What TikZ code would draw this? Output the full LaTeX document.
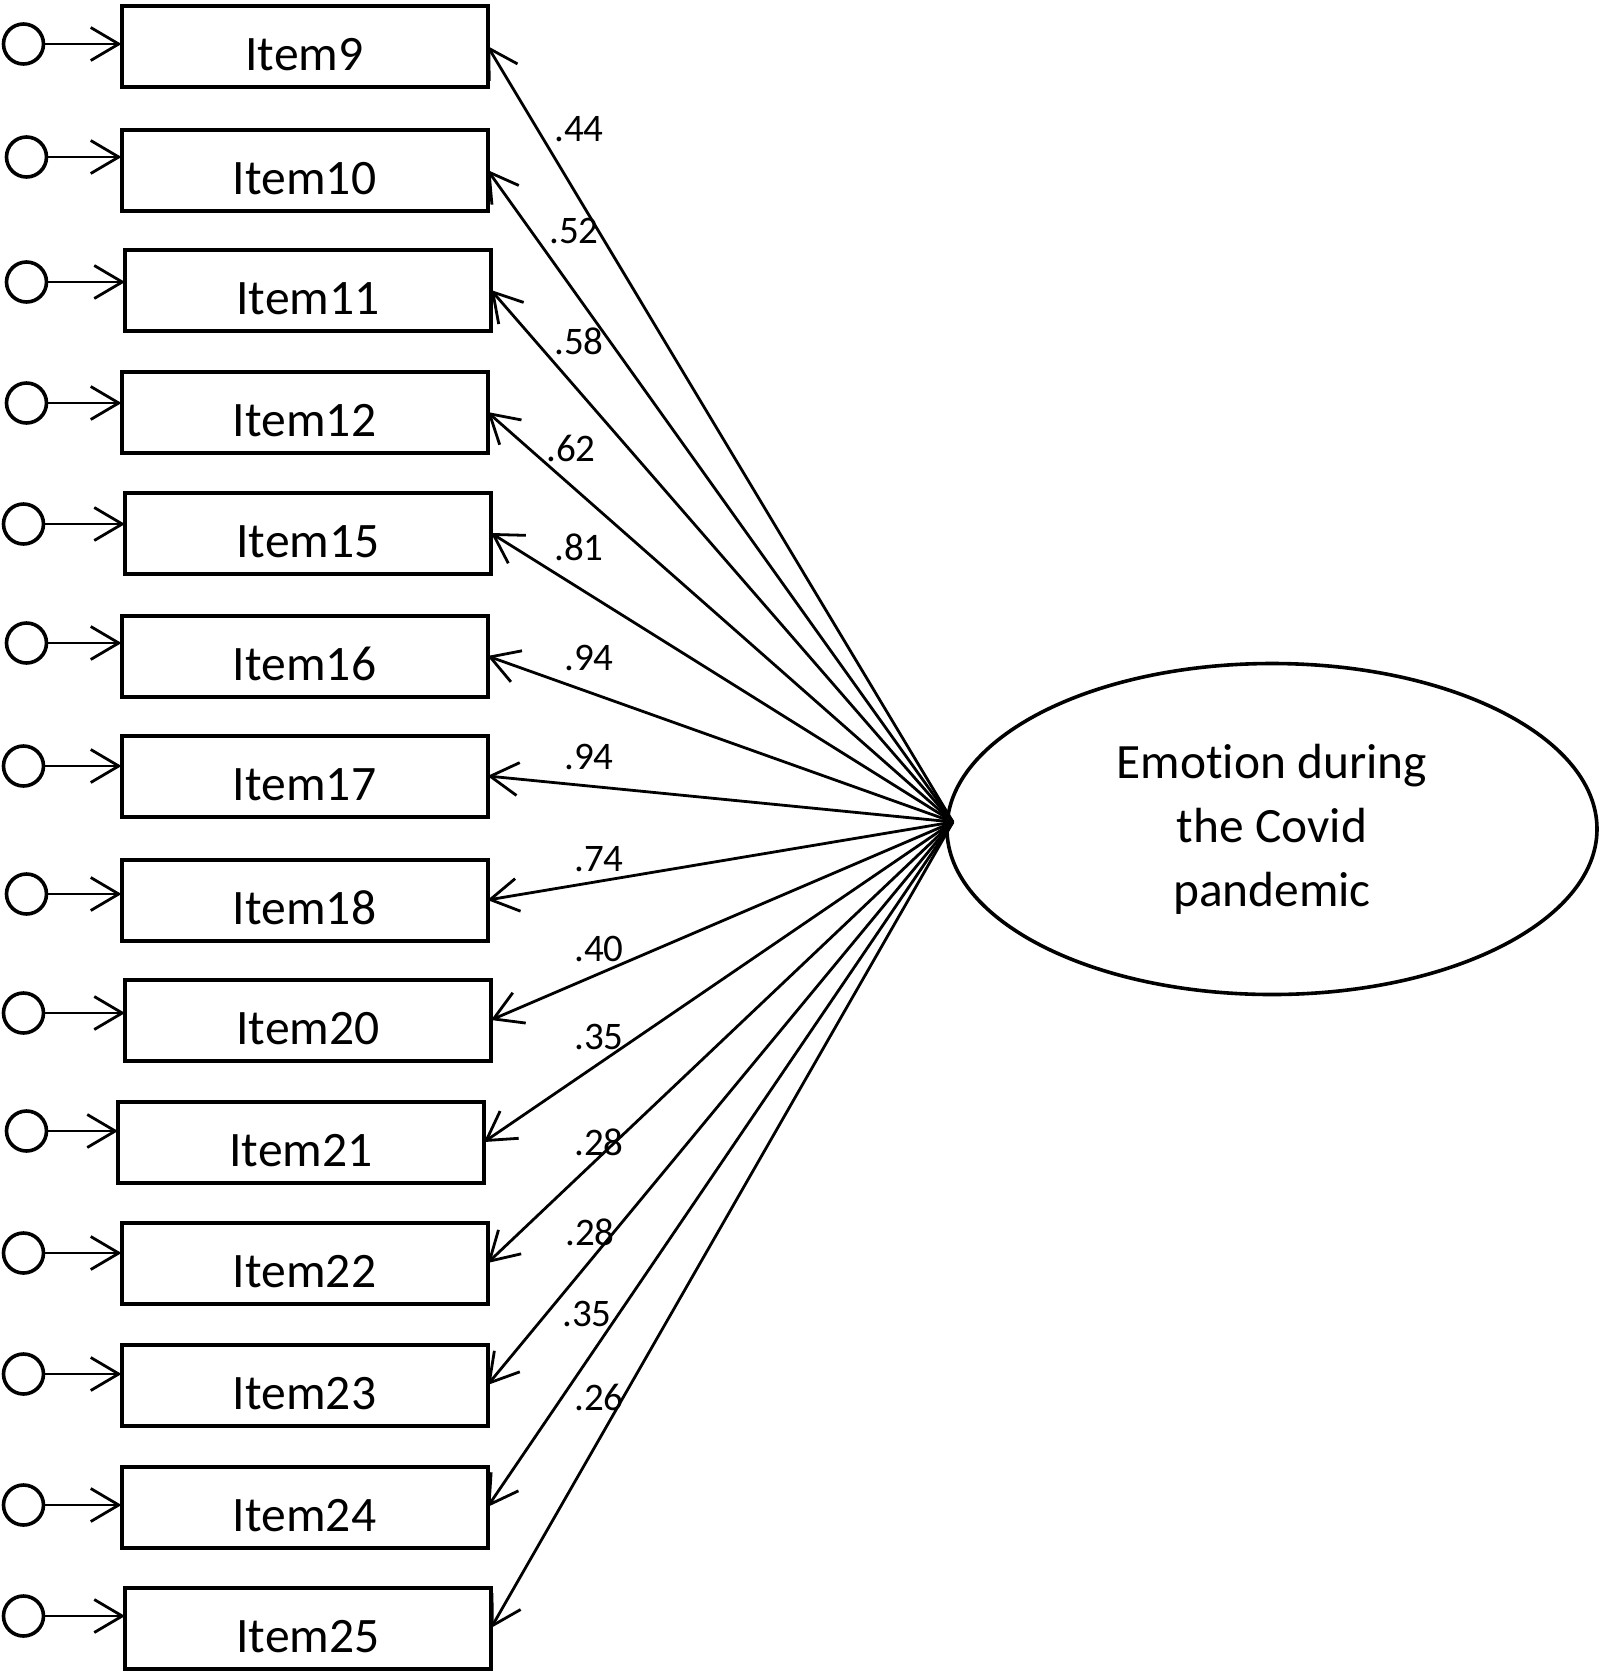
\documentclass[tikz,border=0pt]{standalone}
\usepackage{fontspec}
\setmainfont[Ligatures={NoCommon}]{Carlito}
\usetikzlibrary{arrows.meta,shapes.geometric}
\begin{document}
\begin{tikzpicture}[x=0.5pt,y=-0.5pt,
  itembox/.style={draw, line width=2pt, minimum width=183pt, minimum height=40.5pt,
    inner sep=0pt, outer sep=0pt, text height=32.5pt, text depth=8pt,
    font=\fontsize{24.8}{28}\selectfont},
  errc/.style={draw, circle, line width=1.8pt, minimum size=20pt, inner sep=0pt, outer sep=0pt},
  lnk/.style={line width=1.4pt, -{Straight Barb[length=14pt,width=16.5pt]}},
  lab/.style={font=\fontsize{19.5}{22}\selectfont, inner sep=0pt},
  latent/.style={draw, ellipse, line width=1.8pt, minimum width=325pt, minimum height=165.5pt,
    inner sep=0pt, align=center, font=\fontsize{24.7}{32}\selectfont}
]
\useasboundingbox (0,0) rectangle (1600,1672);

% latent variable
\node[latent] (L) at (1272,829) {Emotion during\\the Covid\\pandemic};
\coordinate (F) at (953,822);

% item boxes
\node[itembox] (i9)  at (304.5,46)  {Item9};
\node[itembox] (i10) at (304.5,170) {Item10};
\node[itembox] (i11) at (308,290)   {Item11};
\node[itembox] (i12) at (304.5,412) {Item12};
\node[itembox] (i15) at (308,533)   {Item15};
\node[itembox] (i16) at (304.5,656) {Item16};
\node[itembox] (i17) at (304.5,776) {Item17};
\node[itembox] (i18) at (304.5,900) {Item18};
\node[itembox] (i20) at (308,1020)  {Item20};
\node[itembox] (i21) at (301,1142)  {Item21};
\node[itembox] (i22) at (304.5,1263) {Item22};
\node[itembox] (i23) at (304.5,1385) {Item23};
\node[itembox] (i24) at (304.5,1507) {Item24};
\node[itembox] (i25) at (308,1628)  {Item25};

% error circles
\node[errc] (e9)  at (23.5,44)   {};
\node[errc] (e10) at (26.5,157)  {};
\node[errc] (e11) at (26.5,282)  {};
\node[errc] (e12) at (26.5,403)  {};
\node[errc] (e15) at (23.5,524)  {};
\node[errc] (e16) at (26.5,643)  {};
\node[errc] (e17) at (23.5,766)  {};
\node[errc] (e18) at (26.5,894)  {};
\node[errc] (e20) at (23.5,1013) {};
\node[errc] (e21) at (26.5,1131) {};
\node[errc] (e22) at (23.5,1253) {};
\node[errc] (e23) at (23.5,1374) {};
\node[errc] (e24) at (23.5,1505) {};
\node[errc] (e25) at (23.5,1616) {};

\foreach \n in {9,10,11,12,15,16,17,18,20,21,22,23,24,25}{
  \draw[lnk] (e\n) -- (e\n -| i\n.west);
  \draw[lnk] (F) -- (i\n.east);
}

% loadings
\node[lab] (l9)  at (579,129)  {.44};
\node[lab] (l10) at (574,231)  {.52};
\node[lab] (l11) at (579,341)  {.58};
\node[lab] (l12) at (571,448)  {.62};
\node[lab] (l15) at (579,547)  {.81};
\node[lab] (l16) at (589,658)  {.94};
\node[lab] (l17) at (589,757)  {.94};
\node[lab] (l18) at (599,859)  {.74};
\node[lab] (l20) at (599,949)  {.40};
\node[lab] (l21) at (599,1037) {.35};
\node[lab] (l22) at (599,1142) {.28};
\node[lab] (l23) at (590,1232) {.28};
\node[lab] (l24) at (587,1314) {.35};
\node[lab] (l25) at (599,1397) {.26};
\end{tikzpicture}
\end{document}
